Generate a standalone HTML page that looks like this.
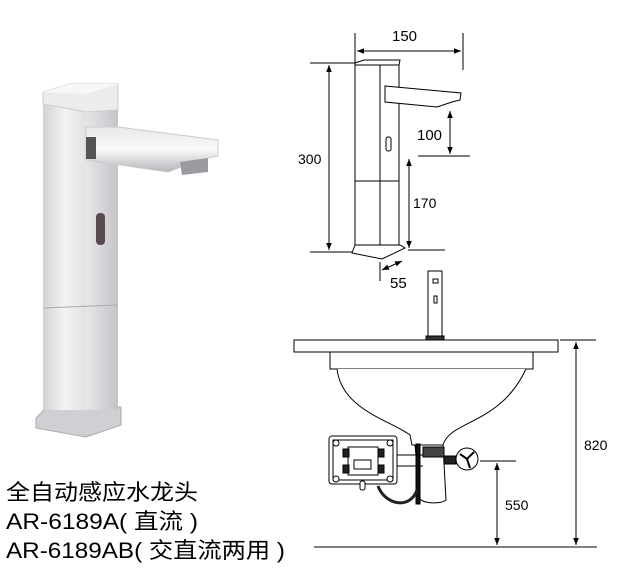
<!DOCTYPE html>
<html><head><meta charset="utf-8"><style>
html,body{margin:0;padding:0;background:#fff;width:618px;height:580px;overflow:hidden}
svg{display:block}
text{font-family:"Liberation Sans","Noto Sans CJK SC",sans-serif;fill:#000}
</style></head><body>
<svg width="618" height="580" viewBox="0 0 618 580" xmlns="http://www.w3.org/2000/svg">
<defs>
<linearGradient id="f" x1="0" x2="1"><stop offset="0" stop-color="#d2d2d5"/><stop offset=".5" stop-color="#f4f4f5"/><stop offset="1" stop-color="#e2e2e4"/></linearGradient>
<linearGradient id="s" x1="0" x2="1"><stop offset="0" stop-color="#e6e6e8"/><stop offset="1" stop-color="#c4c4c8"/></linearGradient>
<linearGradient id="sp" x1="0" y1="0" x2="0" y2="1"><stop offset="0" stop-color="#e8e8ea"/><stop offset=".5" stop-color="#fafafa"/><stop offset="1" stop-color="#b5b5ba"/></linearGradient>
<marker id="a" viewBox="0 0 10 10" refX="10" refY="5" markerWidth="7" markerHeight="7" orient="auto-start-reverse"><path d="M0,1 L10,5 L0,9z" fill="#000"/></marker>
</defs>
<!-- photo faucet -->
<polygon points="36,418 47,407 121,407 121,425 86,437 36,428" fill="#d0d0d4" stroke="#aaa"/>
<rect x="43" y="96" width="43" height="314" fill="url(#f)"/>
<rect x="86" y="96" width="32" height="314" fill="url(#s)"/>
<line x1="43" y1="308" x2="118" y2="305" stroke="#aaa"/>
<polygon points="43,92 70,84 118,84 118,110 86,112 43,104" fill="#ececee" stroke="#ccc"/>
<polygon points="43,92 70,84 118,84 86,94" fill="#f7f7f8"/>
<polygon points="86,127 118,127 218,140 218,156 200,160 168,172 86,160" fill="url(#sp)" stroke="#ccc"/>
<rect x="86" y="137" width="10" height="22" fill="#555"/>
<polygon points="180,162 208,158 208,172 182,175" fill="#9a9aa0"/>
<rect x="96" y="213" width="9" height="32" rx="4" fill="#5a4a50"/>
<!-- dimension drawing faucet -->
<g stroke="#000" fill="none" stroke-width="1">
<rect x="355" y="65" width="44" height="185" fill="#fff"/>
<polygon points="355,63 364,60 400,60 399,65 355,65" fill="#fff"/>
<line x1="355" y1="181" x2="399" y2="181"/>
<line x1="380" y1="65" x2="380" y2="250"/>
<polygon points="352,253 355,245 400,245 405,248 382,259 352,253" fill="#fff"/>
<polygon points="385,86 461,93 460,100 452,102 437,107 385,102" fill="#fff"/>
<rect x="386" y="137" width="5" height="14" rx="2"/>
</g>
<g stroke="#000" stroke-width="1">
<line x1="355" y1="33" x2="355" y2="63"/><line x1="463" y1="33" x2="463" y2="70"/>
<line x1="357" y1="51" x2="461" y2="51" marker-start="url(#a)" marker-end="url(#a)"/>
<line x1="310" y1="63" x2="355" y2="63"/><line x1="310" y1="252" x2="352" y2="252"/>
<line x1="329" y1="65" x2="329" y2="250" marker-start="url(#a)" marker-end="url(#a)"/>
<line x1="418" y1="156" x2="470" y2="156"/>
<line x1="450" y1="111" x2="450" y2="154" marker-start="url(#a)" marker-end="url(#a)"/>
<line x1="408" y1="250" x2="445" y2="250"/>
<line x1="409" y1="159" x2="409" y2="248" marker-start="url(#a)" marker-end="url(#a)"/>
<line x1="382" y1="270" x2="402" y2="261" marker-start="url(#a)" marker-end="url(#a)"/>
<line x1="380" y1="262" x2="380" y2="281"/>
</g>
<text x="392" y="41" font-size="15">150</text>
<text x="298" y="164" font-size="14">300</text>
<text x="417" y="140" font-size="15">100</text>
<text x="413" y="208" font-size="14">170</text>
<text x="390" y="288" font-size="15">55</text>
<!-- basin -->
<g stroke="#000" fill="#fff" stroke-width="1">
<rect x="428" y="271" width="14" height="66"/>
<rect x="433" y="279" width="5" height="4"/><rect x="434" y="296" width="3" height="7"/>
<rect x="426" y="336" width="18" height="4" fill="#333"/>
<rect x="294" y="340" width="264" height="12"/>
<rect x="330" y="352" width="203" height="17"/>
<path d="M337,369 C342,410 390,420 410,435 L412,445 L443,445 C450,420 500,425 526,369"/>
<path d="M415,445 L443,445 L446,500 C440,505 420,503 420,498 Z"/>
<rect x="416" y="444" width="4" height="60" fill="#111"/>
<rect x="423" y="447" width="21" height="10" fill="#444"/>
<rect x="444" y="456" width="12" height="8" fill="#222"/>
<circle cx="467" cy="459" r="11"/>
<path d="M460,454 L467,459 L474,452 M467,459 L470,468" stroke-width="2"/>
<rect x="329" y="436" width="68" height="48" rx="3"/>
<rect x="333" y="440" width="60" height="40"/>
<rect x="348" y="447" width="30" height="28"/>
<rect x="354" y="460" width="17" height="9"/>
<rect x="343" y="449" width="6" height="8" fill="#222"/><rect x="343" y="465" width="6" height="8" fill="#222"/>
<rect x="378" y="449" width="6" height="8" fill="#222"/><rect x="378" y="465" width="6" height="8" fill="#222"/>
<circle cx="336" cy="443" r="3"/><circle cx="390" cy="443" r="3"/><circle cx="336" cy="479" r="3"/><circle cx="390" cy="479" r="3"/>
<line x1="397" y1="455" x2="423" y2="455"/><line x1="397" y1="466" x2="423" y2="466"/>
<path d="M378,486 C385,505 410,510 417,490" fill="none" stroke-width="3" stroke="#222"/>
<rect x="360" y="481" width="5" height="9" rx="2"/>
</g>
<g stroke="#000" stroke-width="1">
<line x1="314" y1="547" x2="597" y2="547"/>
<line x1="560" y1="340" x2="596" y2="340"/>
<line x1="576" y1="342" x2="576" y2="545" marker-start="url(#a)" marker-end="url(#a)"/>
<line x1="480" y1="461" x2="516" y2="461"/>
<line x1="497" y1="463" x2="497" y2="545" marker-start="url(#a)" marker-end="url(#a)"/>
</g>
<text x="584" y="450" font-size="14">820</text>
<text x="505" y="510" font-size="14">550</text>
<!-- captions -->
<text x="6" y="500" font-size="22" textLength="192" lengthAdjust="spacingAndGlyphs">全自动感应水龙头</text>
<text x="6" y="529" font-size="22" textLength="192" lengthAdjust="spacingAndGlyphs">AR-6189A( 直流 )</text>
<text x="6" y="558" font-size="22" textLength="279" lengthAdjust="spacingAndGlyphs">AR-6189AB( 交直流两用 )</text>
</svg>
</body></html>
